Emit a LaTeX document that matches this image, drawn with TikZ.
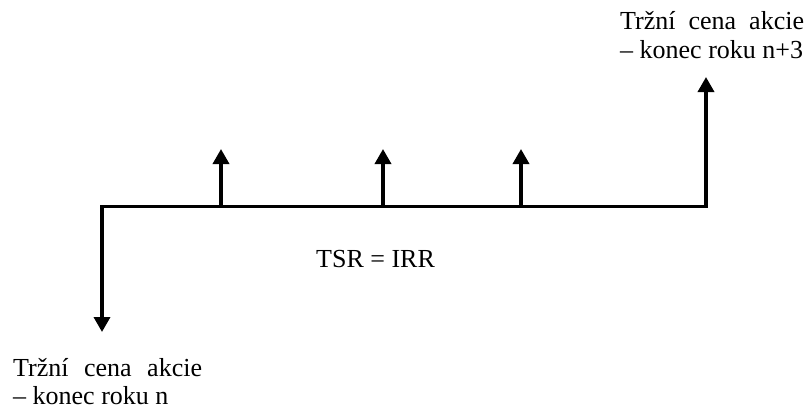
\documentclass[tikz,border=0pt]{standalone}
\usepackage{fontspec}
\setmainfont{Liberation Serif}
\usetikzlibrary{arrows.meta}
\begin{document}
\begin{tikzpicture}[x=1pt,y=-1pt,
  flow/.style={line width=3.5pt,-{Triangle[length=15pt,width=16pt]}},
  axis/.style={line width=3.5pt,line cap=rect},
  lbl/.style={inner sep=0pt,anchor=base west,font=\fontsize{26}{29}\selectfont}]
\useasboundingbox (0,0) rectangle (807,410);
% time axis
\coordinate (t0) at (102,206.5);
\coordinate (t1) at (221,206.5);
\coordinate (t2) at (383,206.5);
\coordinate (t3) at (521,206.5);
\coordinate (t4) at (706,206.5);
\draw[axis] (t0) -- (t4);
% cash flows
\coordinate (p0) at (102,332);
\coordinate (p1) at (221,149);
\coordinate (p2) at (383,149);
\coordinate (p3) at (521,149);
\coordinate (p4) at (706,77);
\draw[flow] (t0) -- (p0);
\draw[flow] (t1) -- (p1);
\draw[flow] (t2) -- (p2);
\draw[flow] (t3) -- (p3);
\draw[flow] (t4) -- (p4);
% labels
\node[lbl] (top1) at (620,29) {Tržní\hspace{13pt}cena\hspace{13pt}akcie};
\node[lbl] (top2) at (620,58) {– konec roku n+3};
\node[lbl] (mid) at (316,267) {TSR = IRR};
\node[lbl] (bot1) at (13,376) {Tržní\hspace{15.5pt}cena\hspace{15.5pt}akcie};
\node[lbl] (bot2) at (13,404) {– konec roku n};
\end{tikzpicture}
\end{document}
